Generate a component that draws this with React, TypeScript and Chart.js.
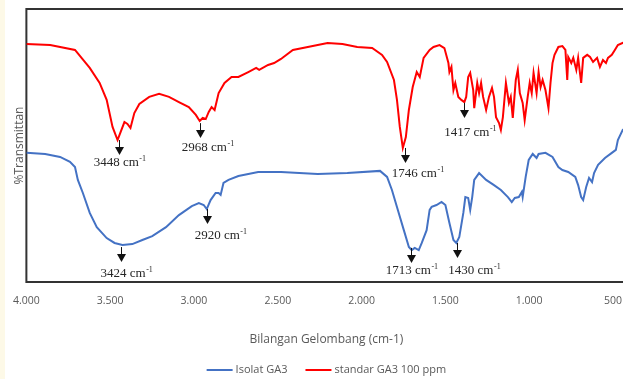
import { useEffect, useRef } from "react";
import { Chart, registerables } from "chart.js";

Chart.register(...registerables);

const seriesNames = ["Isolat GA3", "standar GA3 100 ppm"];
const seriesColors = ["#4472c4", "#ff0000"];

const blueWn = [4000, 3888, 3799, 3740, 3710, 3693, 3663, 3622, 3580, 3521, 3474, 3427, 3368, 3308, 3249, 3167, 3090, 3013, 2971, 2942, 2924, 2901, 2871, 2853, 2841, 2824, 2794, 2735, 2617, 2481, 2262, 2085, 1890, 1848, 1819, 1789, 1748, 1718, 1701, 1683, 1659, 1641, 1612, 1594, 1582, 1553, 1523, 1500, 1476, 1452, 1435, 1417, 1393, 1381, 1364, 1352, 1340, 1328, 1299, 1257, 1210, 1169, 1127, 1104, 1086, 1062, 1044, 1039, 1021, 1003, 979, 956, 944, 903, 861, 826, 802, 767, 725, 708, 690, 678, 660, 643, 625, 613, 589, 548, 507, 483, 471, 442, 400];
const blueT = [47.3, 46.9, 45.8, 44.0, 42.1, 37.4, 32.6, 25.3, 20.1, 16.1, 14.3, 13.6, 13.9, 15.4, 16.8, 20.1, 24.5, 27.8, 28.9, 28.2, 26.7, 30.0, 32.6, 32.6, 31.9, 36.3, 37.4, 38.8, 40.3, 40.3, 39.6, 39.9, 40.7, 38.5, 33.7, 27.5, 19.0, 12.8, 11.7, 12.5, 11.7, 14.3, 19.0, 26.4, 27.5, 28.2, 29.3, 28.2, 21.6, 15.4, 14.3, 16.5, 25.3, 31.1, 30.8, 26.4, 31.1, 37.4, 39.9, 37.4, 35.5, 33.7, 31.1, 29.3, 30.8, 31.1, 33.0, 31.1, 38.5, 44.7, 46.9, 45.4, 46.9, 47.3, 45.8, 42.1, 41.0, 40.3, 38.5, 35.5, 31.1, 30.0, 34.8, 38.1, 36.6, 39.9, 42.9, 45.4, 47.3, 48.4, 52.0, 55.7, 57.5];

const redWn = [4000, 3858, 3710, 3622, 3563, 3521, 3486, 3456, 3438, 3415, 3397, 3379, 3356, 3326, 3267, 3208, 3149, 3090, 3031, 2989, 2966, 2948, 2930, 2912, 2895, 2877, 2853, 2818, 2776, 2735, 2676, 2629, 2611, 2558, 2522, 2481, 2410, 2321, 2262, 2203, 2114, 2026, 1937, 1878, 1848, 1807, 1789, 1772, 1754, 1736, 1718, 1695, 1671, 1653, 1630, 1594, 1571, 1535, 1506, 1482, 1476, 1464, 1452, 1441, 1423, 1405, 1387, 1376, 1364, 1352, 1334, 1328, 1310, 1299, 1287, 1275, 1257, 1240, 1222, 1210, 1198, 1180, 1169, 1157, 1139, 1121, 1110, 1098, 1080, 1068, 1056, 1039, 1027, 1009, 997, 985, 974, 956, 944, 932, 920, 903, 885, 873, 861, 849, 826, 802, 784, 773, 767, 749, 737, 719, 708, 690, 678, 654, 637, 619, 595, 578, 560, 542, 530, 507, 489, 471, 430, 400];
const redT = [87.2, 86.8, 85.0, 78.4, 72.9, 66.7, 56.8, 52.0, 54.9, 58.6, 57.9, 56.4, 61.9, 65.2, 67.8, 68.9, 67.8, 65.9, 64.1, 61.2, 59.0, 60.1, 59.7, 62.3, 64.1, 63.0, 69.2, 72.9, 75.1, 75.1, 76.9, 78.4, 77.7, 79.5, 80.2, 81.7, 85.0, 86.1, 86.8, 87.5, 87.2, 86.1, 85.7, 83.2, 80.6, 74.0, 66.7, 56.8, 49.1, 53.1, 63.0, 71.4, 76.9, 75.1, 82.1, 85.0, 86.1, 86.8, 85.7, 80.2, 76.9, 78.8, 70.3, 72.9, 67.8, 66.7, 65.9, 67.8, 75.1, 76.6, 70.3, 63.7, 72.9, 69.2, 72.9, 67.8, 63.0, 67.8, 71.1, 67.8, 60.4, 58.2, 55.7, 60.4, 72.9, 65.6, 67.8, 60.1, 74.0, 77.7, 69.2, 65.6, 59.3, 67.8, 72.9, 69.2, 76.6, 69.2, 76.9, 71.4, 74.0, 70.3, 63.7, 72.9, 80.2, 83.2, 86.1, 86.4, 85.0, 74.0, 82.4, 80.2, 82.1, 77.7, 82.1, 72.9, 82.1, 83.2, 82.4, 80.6, 82.1, 78.8, 81.3, 80.2, 82.1, 83.2, 85.0, 86.8, 87.9, 88.3];

const tickValues = [4000, 3500, 3000, 2500, 2000, 1500, 1000, 500];

const peakLabels = ["3448", "2968", "1746", "1417", "3424", "2920", "1713", "1430"];
const peakWn = [3450, 2966, 1742, 1387, 3438, 2924, 1707, 1429];
const peakTop = [52.0, 58.2, 49.1, 65.6, 12.8, 26.7, 12.5, 14.3];
const labelWn = [3444, 2918, 1665, 1352, 3403, 2841, 1701, 1328];
const labelBase = [42.5, 48.0, 38.5, 53.5, 1.8, 15.8, 2.9, 2.9];

const xTitle = "Bilangan Gelombang (cm-1)";
const yTitle = "%Transmittan";

const fmtTick = (v: number) =>
  v >= 1000 ? `${Math.floor(v / 1000)}.${String(v % 1000).padStart(3, "0")}` : String(v);

const framePlugin = {
  id: "frame",
  beforeDatasetsDraw(chart: any) {
    const { ctx, chartArea: a } = chart;
    ctx.save();
    ctx.strokeStyle = "#333333";
    ctx.lineWidth = 2;
    ctx.strokeRect(a.left, a.top, a.right - a.left, a.bottom - a.top);
    ctx.restore();
  },
};

const annotationPlugin = {
  id: "peaks",
  afterDatasetsDraw(chart: any) {
    const { ctx } = chart;
    const xs = chart.scales.x;
    const ys = chart.scales.y;
    ctx.save();
    peakLabels.forEach((lab, i) => {
      const x = Math.round(xs.getPixelForValue(peakWn[i])) + 0.5;
      const yt = ys.getPixelForValue(peakTop[i]);
      ctx.strokeStyle = "#111";
      ctx.lineWidth = 1;
      ctx.beginPath();
      ctx.moveTo(x, yt);
      ctx.lineTo(x, yt + 8);
      ctx.stroke();
      ctx.fillStyle = "#111";
      ctx.beginPath();
      ctx.moveTo(x - 4.5, yt + 7);
      ctx.lineTo(x + 4.5, yt + 7);
      ctx.lineTo(x, yt + 15);
      ctx.closePath();
      ctx.fill();

      const main = `${lab} cm`;
      ctx.font = '13px "Liberation Serif"';
      const w1 = ctx.measureText(main).width;
      ctx.font = '8px "Liberation Serif"';
      const w2 = ctx.measureText("-1").width;
      const cx = xs.getPixelForValue(labelWn[i]);
      const by = ys.getPixelForValue(labelBase[i]);
      const sx = cx - (w1 + w2) / 2;
      ctx.fillStyle = "#262626";
      ctx.textAlign = "left";
      ctx.textBaseline = "alphabetic";
      ctx.font = '13px "Liberation Serif"';
      ctx.fillText(main, sx, by);
      ctx.font = '8px "Liberation Serif"';
      ctx.fillText("-1", sx + w1 + 0.5, by - 5);
    });
    ctx.restore();
  },
};

const textPlugin = {
  id: "texts",
  afterDraw(chart: any) {
    const { ctx, chartArea: a } = chart;
    const center = a.left + 300;
    ctx.save();
    ctx.fillStyle = "#595959";
    ctx.textBaseline = "middle";
    ctx.textAlign = "center";
    ctx.font = '12px "Open Sans"';
    ctx.fillText(xTitle, center, 340);

    ctx.font = '11px "Open Sans"';
    const lineW = 26;
    const gap = 3;
    const itemGap = 18;
    const items = chart.data.datasets.map((ds: any) => ({
      text: ds.label,
      color: ds.borderColor,
      w: ctx.measureText(ds.label).width,
    }));
    const total =
      items.reduce((s: number, it: any) => s + lineW + gap + it.w, 0) + itemGap * (items.length - 1);
    let x = center - total / 2;
    const cy = 370;
    ctx.textAlign = "left";
    items.forEach((it: any) => {
      ctx.strokeStyle = it.color;
      ctx.lineWidth = 2;
      ctx.beginPath();
      ctx.moveTo(x, cy);
      ctx.lineTo(x + lineW, cy);
      ctx.stroke();
      ctx.fillStyle = "#595959";
      ctx.fillText(it.text, x + lineW + gap, cy);
      x += lineW + gap + it.w + itemGap;
    });
    ctx.restore();
  },
};

export default function App() {
  const ref = useRef<HTMLCanvasElement>(null);
  useEffect(() => {
    const canvas = ref.current;
    if (!canvas) return;
    const chart = new Chart(canvas, {
      type: "line",
      data: {
        datasets: [
          {
            label: seriesNames[0],
            data: blueWn.map((x, i) => ({ x, y: blueT[i] })),
            borderColor: seriesColors[0],
            backgroundColor: seriesColors[0],
            borderWidth: 2,
            pointRadius: 0,
            tension: 0,
            fill: false,
          },
          {
            label: seriesNames[1],
            data: redWn.map((x, i) => ({ x, y: redT[i] })),
            borderColor: seriesColors[1],
            backgroundColor: seriesColors[1],
            borderWidth: 2,
            pointRadius: 0,
            tension: 0,
            fill: false,
          },
        ],
      },
      options: {
        responsive: false,
        animation: false,
        layout: { padding: { top: 9, left: 0, right: 0, bottom: 0 } },
        plugins: { legend: { display: false }, tooltip: { enabled: false } },
        scales: {
          x: {
            type: "linear",
            min: 400,
            max: 4000,
            reverse: true,
            grid: { display: false, drawTicks: false },
            border: { display: false },
            ticks: {
              padding: 13,
              color: "#595959",
              font: { family: "Open Sans", size: 10.5 },
              maxRotation: 0,
              autoSkip: false,
              callback: (v: any) => fmtTick(Number(v)),
            },
            afterBuildTicks: (s: any) => {
              s.ticks = tickValues.map((value) => ({ value }));
            },
            afterFit: (s: any) => {
              s.height = 97;
            },
          },
          y: {
            type: "linear",
            min: 0,
            max: 100,
            ticks: { display: false },
            grid: { display: false, drawTicks: false },
            border: { display: false },
            title: {
              display: true,
              text: yTitle,
              color: "#595959",
              font: { family: "Open Sans", size: 12 },
              padding: { top: 12, bottom: 0 },
            },
            afterFit: (s: any) => {
              s.width = 26;
            },
          },
        },
      } as any,
      plugins: [framePlugin, annotationPlugin, textPlugin],
    });
    return () => chart.destroy();
  }, []);

  return (
    <div
      style={{
        position: "fixed",
        left: 0,
        top: 0,
        width: 623,
        height: 379,
        overflow: "hidden",
        background: "#ffffff",
      }}
    >
      <div
        style={{
          position: "absolute",
          left: 0,
          top: 0,
          width: 5,
          height: 379,
          background: "#fdf9e7",
        }}
      />
      <canvas
        ref={ref}
        width={635}
        height={379}
        style={{ position: "absolute", left: 0, top: 0, display: "block" }}
      />
    </div>
  );
}
